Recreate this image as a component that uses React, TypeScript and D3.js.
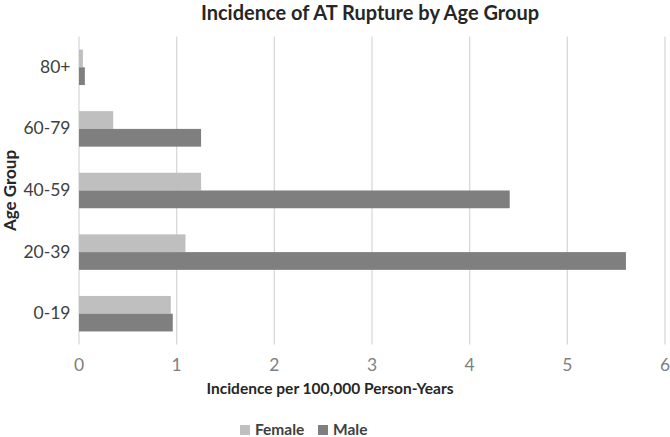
import React from "react";
import * as d3 from "d3";

const categories = ["0-19", "20-39", "40-59", "60-79", "80+"];
const seriesNames = ["Female", "Male"];
const female = [0.94, 1.09, 1.25, 0.35, 0.04];
const male = [0.96, 5.6, 4.41, 1.25, 0.06];
const xTicks = [0, 1, 2, 3, 4, 5, 6];
const colors = ["#BFBFBF", "#7F7F7F"];

const W = 670;
const H = 437;
const FONT = "Lato, 'Open Sans', sans-serif";

export default function App() {
  const left = 79;
  const right = 665;
  const top = 36.5;
  const bottom = 344.5;
  const x = d3.scaleLinear().domain([0, 6]).range([left, right]);
  const y = d3
    .scaleBand<string>()
    .domain([...categories].reverse())
    .range([top, bottom])
    .paddingInner(0)
    .paddingOuter(0);
  const inner = d3
    .scaleBand<string>()
    .domain(seriesNames)
    .range([0, 35.5]);
  const values = [female, male];

  return (
    <svg
      width={W}
      height={H}
      style={{ position: "absolute", left: 0, top: 0, background: "#fff" }}
      fontFamily={FONT}
    >
      <rect width={W} height={H} fill="#fff" />
      <text x={370} y={19.5} textAnchor="middle" fontSize={20} fontWeight="bold" fill="#262626">
        Incidence of AT Rupture by Age Group
      </text>
      {xTicks.map((t) => (
        <line key={t} x1={x(t)} x2={x(t)} y1={top} y2={bottom} stroke="#D9D9D9" strokeWidth={1.3} />
      ))}
      {categories.map((c, i) =>
        seriesNames.map((s, j) => {
          const bandY = y(c)!;
          const offset = (y.bandwidth() - 35.5) / 2;
          return (
            <rect
              key={c + s}
              x={x(0)}
              y={bandY + offset + inner(s)!}
              width={x(values[j][i]) - x(0)}
              height={inner.bandwidth()}
              fill={colors[j]}
            />
          );
        })
      )}
      {categories.map((c) => (
        <text
          key={c}
          x={70.5}
          y={y(c)! + y.bandwidth() / 2 + 1}
          textAnchor="end"
          dominantBaseline="middle"
          fontSize={17.5}
          fill="#404040"
        >
          {c}
        </text>
      ))}
      {xTicks.map((t) => (
        <text key={t} x={x(t)} y={367} textAnchor="middle" dominantBaseline="middle" fontSize={17.5} fill="#808080">
          {t}
        </text>
      ))}
      <text x={330} y={390} textAnchor="middle" dominantBaseline="middle" fontSize={15.5} fontWeight="bold" fill="#262626">
        Incidence per 100,000 Person-Years
      </text>
      <text
        transform={`translate(11.5,190.5) rotate(-90)`}
        textAnchor="middle"
        dominantBaseline="middle"
        fontSize={17}
        fontWeight="bold"
        fill="#262626"
      >
        Age Group
      </text>
      {seriesNames.map((s, j) => {
        const lx = j === 0 ? 240 : 318;
        return (
          <g key={s}>
            <rect x={lx} y={425} width={10} height={10} fill={colors[j]} />
            <text x={lx + 15} y={431} dominantBaseline="middle" fontSize={15.5} fontWeight="bold" fill="#404040">
              {s}
            </text>
          </g>
        );
      })}
    </svg>
  );
}
